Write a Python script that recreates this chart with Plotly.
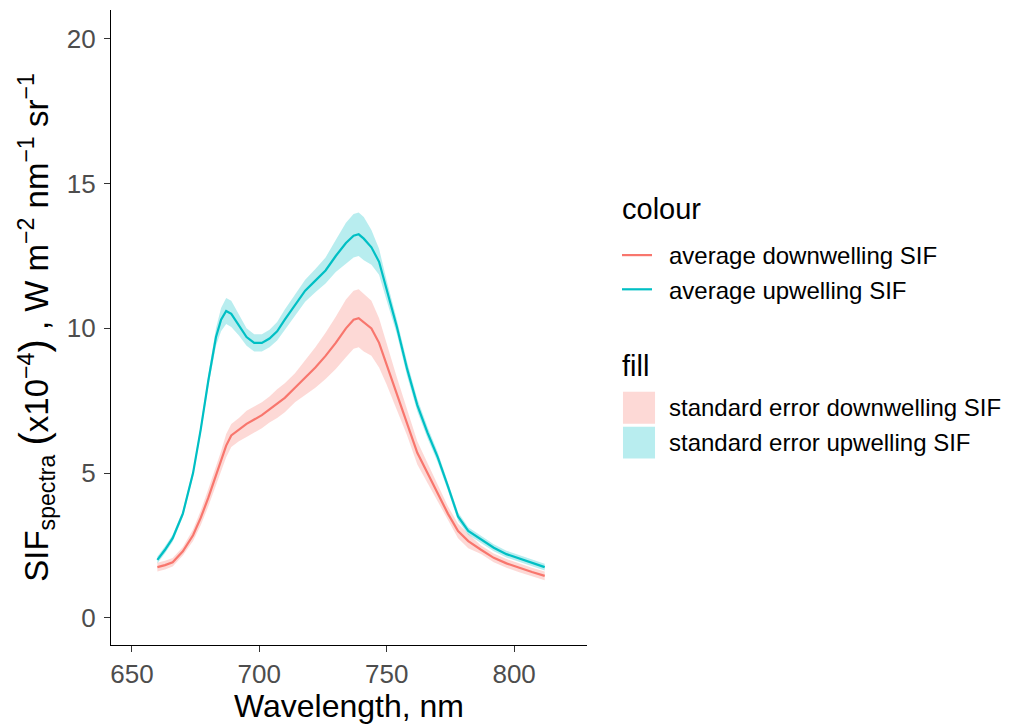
import plotly.graph_objects as go

# Wavelength grid (nm)
wavelength = [660, 663, 666, 670, 674, 677, 680, 683, 685, 687, 689, 692, 695, 698,
              701, 704, 707, 710, 714, 718, 722, 726, 730, 734, 737, 739, 741, 744,
              747, 750, 754, 758, 762, 766, 770, 774, 778, 782, 787, 792, 797, 802,
              807, 812]

# Average upwelling SIF (x1e-4 W m-2 nm-1 sr-1)
up_mean = [2.0, 2.35, 2.75, 3.6, 5.0, 6.5, 8.2, 9.7, 10.3, 10.6, 10.5, 10.1, 9.7, 9.5,
           9.5, 9.65, 9.9, 10.3, 10.8, 11.3, 11.65, 12.0, 12.5, 12.95, 13.2, 13.25, 13.1, 12.8,
           12.3, 11.3, 10.05, 8.6, 7.35, 6.4, 5.55, 4.55, 3.5, 3.0, 2.7, 2.42, 2.2, 2.05,
           1.9, 1.75]
up_se = [0.12, 0.12, 0.12, 0.12, 0.12, 0.15, 0.2, 0.3, 0.4, 0.45, 0.45, 0.35, 0.3, 0.3,
         0.3, 0.3, 0.32, 0.35, 0.35, 0.38, 0.4, 0.45, 0.55, 0.7, 0.75, 0.75, 0.75, 0.6,
         0.45, 0.35, 0.25, 0.25, 0.22, 0.2, 0.18, 0.15, 0.15, 0.13, 0.12, 0.12, 0.12, 0.12,
         0.12, 0.12]

# Average downwelling SIF
down_mean = [1.75, 1.82, 1.92, 2.3, 2.85, 3.45, 4.15, 4.9, 5.4, 5.95, 6.3, 6.5, 6.7, 6.85,
             7.0, 7.2, 7.4, 7.6, 7.95, 8.3, 8.65, 9.05, 9.5, 10.0, 10.3, 10.35, 10.2, 10.0,
             9.5, 8.75, 7.75, 6.75, 5.7, 5.0, 4.3, 3.6, 3.0, 2.65, 2.35, 2.07, 1.88, 1.72,
             1.58, 1.45]
down_se = [0.15, 0.15, 0.15, 0.15, 0.2, 0.25, 0.3, 0.3, 0.35, 0.4, 0.4, 0.4, 0.45, 0.45,
           0.45, 0.45, 0.5, 0.5, 0.5, 0.6, 0.7, 0.8, 0.9, 1.0, 1.0, 1.0, 1.0, 0.95,
           0.85, 0.7, 0.55, 0.45, 0.4, 0.35, 0.3, 0.25, 0.25, 0.25, 0.15, 0.15, 0.15, 0.15,
           0.15, 0.15]

line_names = ["average downwelling SIF", "average upwelling SIF"]
fill_names = ["standard error downwelling SIF", "standard error upwelling SIF"]
x_ticks = [650, 700, 750, 800]
y_ticks = [0, 5, 10, 15, 20]

RED = "#F8766D"
CYAN = "#00BFC4"
RED_FILL = "rgba(248,118,109,0.28)"
CYAN_FILL = "rgba(0,191,196,0.28)"
FONT = "Liberation Sans, Arial, Helvetica, sans-serif"

fig = go.Figure()

for mean, se, fillc in [(down_mean, down_se, RED_FILL), (up_mean, up_se, CYAN_FILL)]:
    lower = [m - s for m, s in zip(mean, se)]
    upper = [m + s for m, s in zip(mean, se)]
    fig.add_trace(go.Scatter(x=wavelength, y=lower, mode="lines",
                             line=dict(width=0, color=fillc), showlegend=False,
                             hoverinfo="skip"))
    fig.add_trace(go.Scatter(x=wavelength, y=upper, mode="lines", fill="tonexty",
                             fillcolor=fillc, line=dict(width=0, color=fillc),
                             showlegend=False, hoverinfo="skip"))

for mean, name, col in [(down_mean, line_names[0], RED), (up_mean, line_names[1], CYAN)]:
    fig.add_trace(go.Scatter(x=wavelength, y=mean, mode="lines", name="\u2002" + name,
                             line=dict(color=col, width=2.2)))

# Legend titles
fig.add_annotation(text="colour", xref="paper", yref="paper", x=1.0693, y=0.686,
                   xanchor="left", yanchor="middle", showarrow=False,
                   font=dict(size=29, color="black", family=FONT))
fig.add_annotation(text="fill", xref="paper", yref="paper", x=1.0693, y=0.4396,
                   xanchor="left", yanchor="middle", showarrow=False,
                   font=dict(size=29, color="black", family=FONT))

# Manual "fill" legend (square keys as in ggplot)
key_x0, key_x1 = 1.0756, 1.1429
key_rows = [(0.3485, 0.3987), (0.2936, 0.3438)]
for (y0, y1), fc in zip(key_rows, [RED_FILL, CYAN_FILL]):
    fig.add_shape(type="rect", xref="paper", yref="paper", x0=key_x0, x1=key_x1,
                  y0=y0, y1=y1, fillcolor=fc, line=dict(width=0))
for (y0, y1), label in zip(key_rows, fill_names):
    fig.add_annotation(text=label, xref="paper", yref="paper", x=1.1681, y=(y0 + y1) / 2,
                       xanchor="left", yanchor="middle", showarrow=False,
                       font=dict(size=24, color="black", family=FONT))

ytitle = ("SIF<sub>spectra</sub> <span style='font-size:40px'>(</span>x10<sup>\u22124</sup>"
          "<span style='font-size:40px'>)</span> , W m<sup>\u22122</sup> nm<sup>\u22121</sup> "
          "sr<sup>\u22121</sup>")

fig.update_layout(
    width=1016, height=724,
    margin=dict(l=111, r=429, t=10, b=77),
    plot_bgcolor="white", paper_bgcolor="white",
    font=dict(family=FONT, color="black"),
    showlegend=True,
    legend=dict(
        font=dict(size=24, color="black", family=FONT),
        xref="container", yref="container",
        x=617 / 1016, y=1 - 233 / 724, xanchor="left", yanchor="top",
        bgcolor="rgba(0,0,0,0)", borderwidth=0, tracegroupgap=0,
        traceorder="normal",
    ),
    xaxis=dict(
        range=[641.8, 828.6], tickvals=x_ticks, ticks="outside", ticklen=6,
        tickcolor="#333333", tickwidth=1.3,
        tickfont=dict(size=26, color="#4D4D4D", family=FONT),
        showline=True, linecolor="black", linewidth=1.4, showgrid=False, zeroline=False,
        title=dict(text="Wavelength, nm", font=dict(size=32, color="black", family=FONT),
                   standoff=2),
    ),
    yaxis=dict(
        range=[-0.94, 21.0], tickvals=y_ticks, ticks="outside", ticklen=6,
        tickcolor="#333333", tickwidth=1.3,
        tickfont=dict(size=26, color="#4D4D4D", family=FONT),
        showline=True, linecolor="black", linewidth=1.4, showgrid=False, zeroline=False,
        title=dict(text=ytitle, font=dict(size=33, color="black", family=FONT),
                   standoff=8),
        ticklabelstandoff=3,
    ),
)

fig.write_html("out.html")
